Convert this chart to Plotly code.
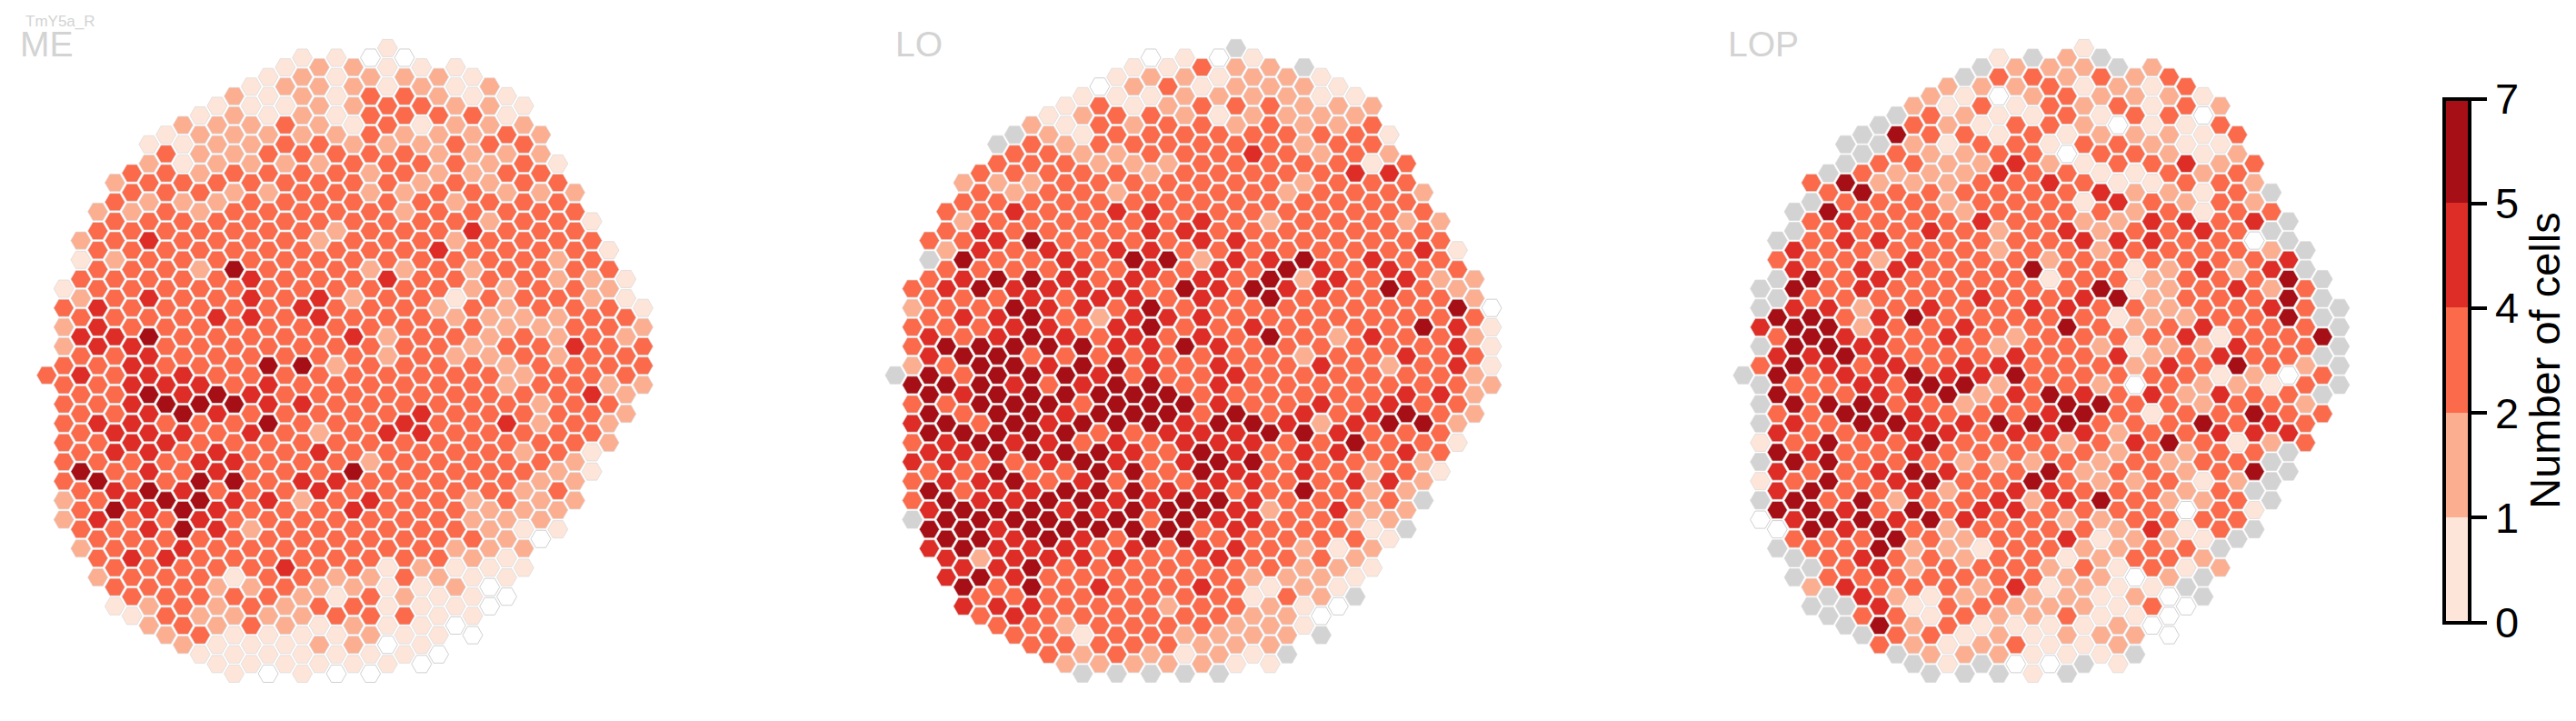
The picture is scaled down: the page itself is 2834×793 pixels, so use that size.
import plotly.graph_objects as go

W, H = 2834, 793

# Hex grid: first column index of every half-row (row r holds columns first, first+2, ...)
FIRST_COL = [20,15,14,13,12,11,10,9,8,7,6,7,6,5,4,5,4,3,4,3,2,3,2,3,2,1,2,1,2,1,2,1,2,1,0,1,2,1,2,1,2,1,2,1,2,1,2,1,2,1,2,3,2,3,4,3,4,5,4,5,6,7,8,9,10,11]

# Cell codes: n = no data, 0 = none, 1, 2, 3 (2-4), 5, 6 (5-7)
ME_ROWS = ["1","1100","122111","1212221","12221212","212133211","1112233221","1212133331","22232131222",
"122222322232","112233222333","322333332222","2122223333231","3323333232233","23333333323233","33322332233222",
"32223333332333","223233333233333","333333333332331","333333323335333","2353333233323333","3333333333533331",
"1233333333333323","3332633322323333","33333533353333221","13333333333322332","23533535233133321",
"353333353332323331","33335535333222233","253333333333322332","55633333523323232","255333333333233533",
"33533333323223233","335333662333323333","353553333333332333","335553533333323322","33656533333333352",
"33566655333333233","33565333335333332","35533363335335232","3555353235533333",
"33553333333333332","3553533533333231","3333553332333332","6353533363333321","3633663553333322",
"356533353333323","2356655235332322","365653335333222","253353333333222","335652333333211",
"33333333333320","23353333333222","3553333333321","3333353312111","2333133223211",
"333223221120","333332132110","123232331110","13222233311","2323212110","2311112110","21112201","11111110","1111110","10100"]

LO_ROWS = ["n","0101","11322n","1221221","02312221","111222211","1312333222","1233212222","21323323223",
"n21333333331","n32333333233","332233353232","3332223333313","3333323333355","22233333332333","32332333323332",
"33333333333333","335335533333333","233333353233322","353333553333333","3356333355333333","2535355333333351",
"n633536625563533","3333535353653533","35665353536253522","35655553656553632","33353553536333332",
"233655363333333360","35563255533333333","333553563353333651","53565353536325332","366666556533333351",
"56633333333233533","236656653533532351","n63666533353333332","666535663533333332","65666666333333552",
"33666366653353533","63665666363535632","56365666566525662","6666633555665333","35655353555336331",
"5566665365355353","5533565356633332","3363366365353231","3556353335533552","635566655336322",
"365566556653333n","566655666523522","n66666636553322","66566666353331n","66565366333331",
"56555353553212","5255553353332","5563333333221","5653333332221","636353353121","33333333132n",
"555333233210","35333333220","3323333221","331332222n","33333222","3232121n","2222211","nnnnn"]

LOP_ROWS = ["1","1n2n","n222n2","n332323","22231213","210232221","2131323132","n321131330","n3213320113",
"n63313122213","nn2133133211","n32233033212","n332252133523","n322253311323","36222335311332","3633333352213n",
"n3332333153232","n63332333323133","35333533225535n","n3335323523353n","n35533333555330n","533333233233332n",
"3332533323333335","535533363312525n","n635333313323336n","n6353333336123523","n333335335623336n","n5523533553323353n",
"6635633333122336n","56623353363235333n","36553532333351336","n6653332332122533n","5565333533523533n","36535355333253632n",
"n63556556333331203","n3353662332032213n","6335562565352533n","n6663323366332332","33665333563133633","n5366556663336353",
"5335553555233555","13633633323563123","653353333323233n","n66333222323233n","533565336233236n","136356336322312n",
"56335235533323n","n63623352563223n","665363553333031","056656533223333","06563233332513n","3336323351221n",
"n336221332233n","n353323312332","n352333231312","n33333332202n","25333251211n","n5212322120n","nn5133222130",
"n3313223110","n623111120","n331212220","32123112","n222111n","n1n00n1","nnn1n"]

PANEL_NAMES = ["ME", "LO", "LOP"]
PANEL_ROWS = [ME_ROWS, LO_ROWS, LOP_ROWS]
TITLE = "TmY5a_R"

BIN_EDGES = ["0", "1", "2", "4", "5", "7"]
BIN_COLORS = ["#fee5d9", "#fcae91", "#fb6a4a", "#de2d26", "#a50f15"]
BIN_POS = {"1": 0.5, "2": 1.5, "3": 2.5, "5": 3.5, "6": 4.5}

# layout (pixels)
COL0_PX = [51.4, 984.9, 1917.8]
COL_PX = 18.745
ROW0_PX = 52.9
ROW_PX = 10.585
HEX_SIZE = 22
EDGE = "#d9d9d9"
GREY = "#d3d3d3"
EDGE_W = 0.7

fig = go.Figure()

def cells(rows):
    out = []
    for r, s in enumerate(rows):
        for i, ch in enumerate(s):
            out.append((FIRST_COL[r] + 2 * i, r, ch))
    return out

steps = []
n = len(BIN_COLORS)
for i, c in enumerate(BIN_COLORS):
    steps += [[i / n, c], [(i + 1) / n, c]]

for p, rows in enumerate(PANEL_ROWS):
    ax = "x" if p == 0 else f"x{p + 1}"
    cs = cells(rows)
    a = [c for c in cs if c[2] in BIN_POS]
    z = [c for c in cs if c[2] == "0"]
    g = [c for c in cs if c[2] == "n"]
    line = dict(color=EDGE, width=EDGE_W)
    fig.add_trace(go.Scatter(x=[c[0] for c in g], y=[c[1] for c in g], xaxis=ax, yaxis="y", mode="markers",
                             cliponaxis=False, showlegend=False, hoverinfo="skip",
                             marker=dict(symbol="hexagon2", size=HEX_SIZE, color=GREY, line=line)))
    fig.add_trace(go.Scatter(x=[c[0] for c in a], y=[c[1] for c in a], xaxis=ax, yaxis="y", mode="markers",
                             cliponaxis=False, showlegend=False,
                             marker=dict(symbol="hexagon2", size=HEX_SIZE, line=line,
                                         color=[BIN_POS[c[2]] for c in a], coloraxis="coloraxis")))
    fig.add_trace(go.Scatter(x=[c[0] for c in z], y=[c[1] for c in z], xaxis=ax, yaxis="y", mode="markers",
                             cliponaxis=False, showlegend=False, hoverinfo="skip",
                             marker=dict(symbol="hexagon2", size=HEX_SIZE, color="#ffffff",
                                         line=dict(color="#d0d0d0", width=1))))

def xaxis_for(p):
    left = COL0_PX[p] - 30
    right = COL0_PX[p] + 35 * COL_PX + 30
    return dict(domain=[left / W, right / W],
                range=[(left - COL0_PX[p]) / COL_PX, (right - COL0_PX[p]) / COL_PX],
                visible=False, anchor="y", fixedrange=True)

annotations = [dict(text=name, x=xp / W, y=1 - 48 / H, xref="paper", yref="paper", xanchor="left", yanchor="middle",
                    showarrow=False, font=dict(family="Liberation Sans", size=39, color=GREY))
               for name, xp in zip(PANEL_NAMES, [20, 983, 1899])]
annotations.append(dict(text=TITLE, x=26 / W, y=1 - 23 / H, xref="paper", yref="paper", xanchor="left", yanchor="middle",
                        showarrow=False, font=dict(family="Liberation Sans", size=17, color=GREY)))

fig.update_layout(
    width=W, height=H, margin=dict(l=0, r=0, t=0, b=0),
    paper_bgcolor="white", plot_bgcolor="white", showlegend=False,
    xaxis=xaxis_for(0), xaxis2=xaxis_for(1), xaxis3=xaxis_for(2),
    yaxis=dict(domain=[0, 1], range=[(H - ROW0_PX) / ROW_PX, -ROW0_PX / ROW_PX], visible=False, fixedrange=True),
    annotations=annotations,
    coloraxis=dict(
        cmin=0, cmax=5, colorscale=steps,
        colorbar=dict(
            x=2689 / W, xanchor="left", xpad=0, y=1 - 108.5 / H, yanchor="top", ypad=0,
            len=576, lenmode="pixels", thickness=28, thicknessmode="pixels",
            outlinecolor="black", outlinewidth=4, bgcolor="rgba(0,0,0,0)",
            tickmode="array", tickvals=list(range(6)), ticktext=BIN_EDGES,
            ticks="outside", ticklen=17, tickwidth=3.5, tickcolor="black",
            tickfont=dict(family="Liberation Sans", size=47, color="black"),
            title=dict(text="Number of cells", side="right",
                       font=dict(family="Liberation Sans", size=47, color="black")),
        ),
    ),
)

fig.write_html("out.html", config=dict(displayModeBar=False),
               post_script="document.body.style.margin='0';")
